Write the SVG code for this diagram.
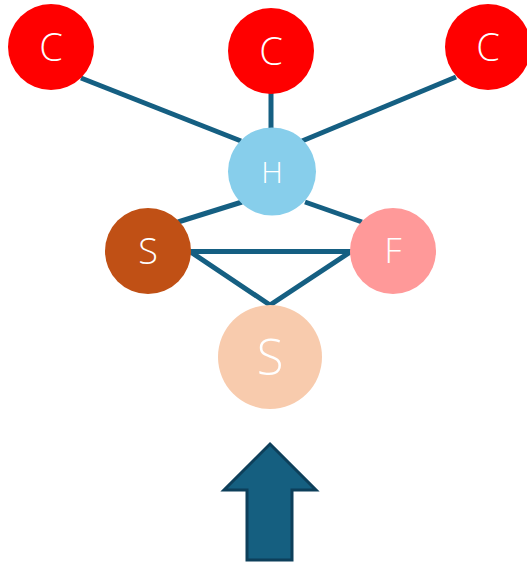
<svg xmlns="http://www.w3.org/2000/svg" width="527" height="566" viewBox="0 0 527 566">
<style>
.edge{stroke:#155f82;stroke-width:5;fill:none;stroke-linecap:butt}
.lbl{font-family:"Open Sans","Noto Sans","DejaVu Sans",sans-serif;font-weight:300;fill:#ffffff;text-anchor:middle}
</style>
<rect width="527" height="566" fill="#ffffff"/>
<g id="connectors">
<line class="edge" x1="81" y1="78" x2="241" y2="141"/>
<line class="edge" x1="271" y1="93" x2="271" y2="129"/>
<line class="edge" x1="456" y1="77" x2="302" y2="141"/>
<line class="edge" x1="242" y1="202" x2="178" y2="222"/>
<line class="edge" x1="305" y1="202" x2="362" y2="222"/>
<line class="edge" x1="190" y1="251.5" x2="351" y2="251.5"/>
<polyline class="edge" points="190,251.5 270,305 351,251.5" stroke-linejoin="miter"/>
</g>
<g id="C1"><circle cx="51" cy="47" r="43" fill="#ff0000"/><text class="lbl" x="51" y="61" font-size="38">C</text></g>
<g id="C2"><circle cx="271" cy="51" r="43" fill="#ff0000"/><text class="lbl" x="271" y="65" font-size="38">C</text></g>
<g id="C3"><circle cx="488" cy="47" r="43" fill="#ff0000"/><text class="lbl" x="488" y="61" font-size="38">C</text></g>
<g id="H"><circle cx="272" cy="171.5" r="44" fill="#87ceeb"/><text class="lbl" x="272" y="182.5" font-size="30">H</text></g>
<g id="S1"><circle cx="148" cy="251" r="43" fill="#c05015"/><text class="lbl" x="148" y="264" font-size="36">S</text></g>
<g id="F"><circle cx="393" cy="251" r="43" fill="#ff9999"/><text class="lbl" x="393" y="263" font-size="34">F</text></g>
<g id="S2"><circle cx="270" cy="357" r="52" fill="#f8cbad"/><text class="lbl" x="270" y="375" font-size="49">S</text></g>
<g id="arrow"><polygon points="270,444 316,490 292,490 292,560 247,560 247,490 224,490" fill="#155f80" stroke="#0d3f5a" stroke-width="3" stroke-linejoin="miter"/></g>
</svg>
